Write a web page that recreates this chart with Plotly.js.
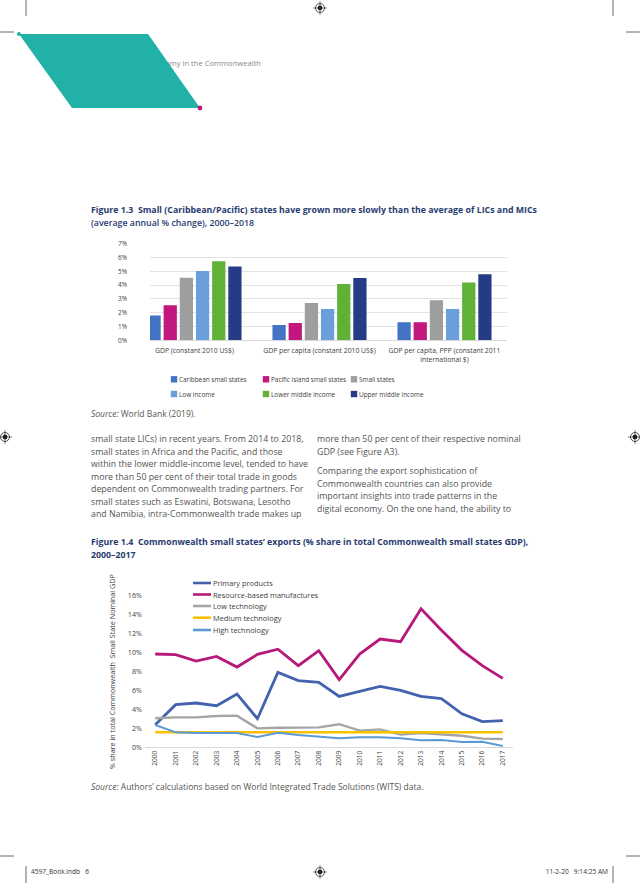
<!DOCTYPE html>
<html><head><meta charset="utf-8">
<script src="https://cdn.plot.ly/plotly-3.0.1.min.js"></script>
<style>
body{margin:0;width:640px;height:883px;position:relative;background:#fff;overflow:hidden;font-family:'Open Sans',sans-serif}
.t{position:absolute;white-space:nowrap;color:#555;font-size:8.8px;line-height:12.5px}
.ttl{position:absolute;white-space:nowrap;color:#283B70;font-size:8.8px;line-height:12.5px;font-weight:700}
.src{position:absolute;white-space:nowrap;color:#555;font-size:8.5px;line-height:12px}
.hdr{position:absolute;white-space:nowrap;color:#8a8a8a;font-size:7.6px;line-height:10px}
.foot{position:absolute;white-space:nowrap;color:#333;font-size:6.6px;line-height:8px}
#chart{position:absolute;left:0;top:0;width:640px;height:883px}
svg.deco{position:absolute;left:0;top:0}
</style></head>
<body>
<div class="hdr" style="right:379px;top:58px">Digital economy in the Commonwealth</div>
<svg class="deco" width="640" height="883">
  <polygon points="19,34 148,34 200,108 72,108" fill="#22B1A6"/>
  <circle cx="19" cy="34" r="2" fill="#22B1A6"/>
  <circle cx="200" cy="108" r="2.4" fill="#C0187A"/>
  <g stroke="#444" stroke-width="0.8">
    <line x1="26" y1="0" x2="26" y2="16"/><line x1="613" y1="0" x2="613" y2="16"/>
    <line x1="0" y1="32" x2="14" y2="32"/><line x1="626" y1="32" x2="640" y2="32"/>
    <line x1="0" y1="856" x2="14" y2="856"/><line x1="626" y1="856" x2="640" y2="856"/>
    <line x1="26" y1="866" x2="26" y2="883"/><line x1="613" y1="866" x2="613" y2="883"/>
  </g>
  <g id="marks"></g>
</svg>
<div class="ttl" style="left:91px;top:204px">Figure 1.3&nbsp; Small (Caribbean/Pacific) states have grown more slowly than the average of LICs and MICs<br><span style="font-weight:600">(average annual % change), 2000–2018</span></div>
<div class="src" style="left:91px;top:408px"><i>Source:</i> World Bank (2019).</div>
<div class="t" style="left:91px;top:433px">small state LICs) in recent years. From 2014 to 2018,<br>small states in Africa and the Pacific, and those<br>within the lower middle-income level, tended to have<br>more than 50 per cent of their total trade in goods<br>dependent on Commonwealth trading partners. For<br>small states such as Eswatini, Botswana, Lesotho<br>and Namibia, intra-Commonwealth trade makes up</div>
<div class="t" style="left:317px;top:433px">more than 50 per cent of their respective nominal<br>GDP (see Figure A3).</div>
<div class="t" style="left:317px;top:465px">Comparing the export sophistication of<br>Commonwealth countries can also provide<br>important insights into trade patterns in the<br>digital economy. On the one hand, the ability to</div>
<div class="ttl" style="left:91px;top:536px">Figure 1.4&nbsp; Commonwealth small states’ exports (% share in total Commonwealth small states GDP),<br>2000–2017</div>
<div class="src" style="left:91px;top:781px"><i>Source:</i> Authors’ calculations based on World Integrated Trade Solutions (WITS) data.</div>
<div class="foot" style="left:31px;top:868px">4597_Book.indb&nbsp;&nbsp; 6</div>
<div class="foot" style="right:32px;top:868px">11-2-20&nbsp;&nbsp; 9:14:25 AM</div>
<div id="chart"></div>
<script>
// registration marks
(function(){
  const g=document.getElementById('marks');
  const pts=[[320,8],[5,437],[635,437],[320,872]];
  let s='';
  pts.forEach(p=>{
    s+=`<circle cx="${p[0]}" cy="${p[1]}" r="4.5" fill="none" stroke="#222" stroke-width="0.8"/>`+
       `<circle cx="${p[0]}" cy="${p[1]}" r="2.4" fill="#222"/>`+
       `<line x1="${p[0]-7}" y1="${p[1]}" x2="${p[0]+7}" y2="${p[1]}" stroke="#222" stroke-width="0.6"/>`+
       `<line x1="${p[0]}" y1="${p[1]-7}" x2="${p[0]}" y2="${p[1]+7}" stroke="#222" stroke-width="0.6"/>`;
  });
  g.innerHTML=s;
})();

// ---------- Figure 1.3 data ----------
const groups = ['GDP (constant 2010 US$)', 'GDP per capita (constant 2010 US$)', 'GDP per capita, PPP (constant 2011<br>international $)'];
const caribbean   = [1.79, 1.11, 1.30];
const pacific     = [2.54, 1.26, 1.30];
const smallStates = [4.54, 2.71, 2.90];
const lowIncome   = [5.02, 2.27, 2.27];
const lowerMiddle = [5.72, 4.08, 4.18];
const upperMiddle = [5.34, 4.52, 4.78];
const barNames = ['Caribbean small states', 'Pacific island small states', 'Small states', 'Low income', 'Lower middle income', 'Upper middle income'];
const barTicks = [0, 1, 2, 3, 4, 5, 6, 7];
const barTickLabels = ['0%', '1%', '2%', '3%', '4%', '5%', '6%', '7%'];

// ---------- Figure 1.4 data ----------
const years = [2000, 2001, 2002, 2003, 2004, 2005, 2006, 2007, 2008, 2009, 2010, 2011, 2012, 2013, 2014, 2015, 2016, 2017];
const primary    = [2.35, 4.46, 4.63, 4.35, 5.58, 2.98, 7.86, 7.00, 6.80, 5.33, 5.86, 6.39, 5.96, 5.33, 5.09, 3.50, 2.67, 2.77];
const resource   = [9.79, 9.72, 9.05, 9.54, 8.42, 9.75, 10.30, 8.56, 10.14, 7.09, 9.79, 11.37, 11.09, 14.56, 12.30, 10.18, 8.56, 7.23];
const lowTech    = [3.02, 3.12, 3.12, 3.26, 3.30, 1.96, 2.03, 2.03, 2.07, 2.40, 1.72, 1.86, 1.30, 1.47, 1.30, 1.19, 0.88, 0.84];
const mediumTech = [1.55, 1.55, 1.55, 1.55, 1.55, 1.55, 1.55, 1.55, 1.55, 1.55, 1.55, 1.55, 1.55, 1.55, 1.55, 1.55, 1.55, 1.55];
const highTech   = [2.32, 1.54, 1.47, 1.47, 1.47, 1.05, 1.51, 1.26, 1.05, 0.91, 1.02, 1.02, 0.91, 0.70, 0.74, 0.53, 0.56, 0.10];
const lineNames = ['Primary products', 'Resource-based manufactures', 'Low technology', 'Medium technology', 'High technology'];
const lineTicks = [0, 2, 4, 6, 8, 10, 12, 14, 16];
const lineTickLabels = ['0%', '2%', '4%', '6%', '8%', '10%', '12%', '14%', '16%'];

// ---------- styles ----------
const barColors = ['#4472C4', '#C2177C', '#9E9E9E', '#6A9FDC', '#5FB236', '#263B86'];
const lineColors = ['#4362AE', '#B8187A', '#A5A5A5', '#F9C000', '#5B9BD5'];
const lineWidths = [2.8, 2.8, 2.4, 2.4, 2.0];

const W = 640, H = 883;
const fx = p => p / W, fy = p => 1 - p / H;

const barSeries = [caribbean, pacific, smallStates, lowIncome, lowerMiddle, upperMiddle];
const lineSeries = [primary, resource, lowTech, mediumTech, highTech];

const traces = [];
barSeries.forEach((vals, i) => traces.push({
  type: 'bar', x: groups, y: vals, name: barNames[i], xaxis: 'x', yaxis: 'y',
  marker: {color: barColors[i]}, hoverinfo: 'skip'
}));
lineSeries.forEach((vals, i) => traces.push({
  type: 'scatter', mode: 'lines', x: years, y: vals, name: lineNames[i], xaxis: 'x2', yaxis: 'y2',
  line: {color: lineColors[i], width: lineWidths[i]}, hoverinfo: 'skip'
}));
const shapes = [], annotations = [];
// bar legend (manual, Excel-like)
const legCols = [174, 266, 354], legRows = [379.3, 394];
barNames.forEach((n, i) => {
  const cx = legCols[i % 3], cy = legRows[Math.floor(i / 3)];
  shapes.push({type: 'rect', xref: 'paper', yref: 'paper', x0: fx(cx - 3.2), x1: fx(cx + 3.2), y0: fy(cy + 3.2), y1: fy(cy - 3.2), fillcolor: barColors[i], line: {width: 0}});
  annotations.push({xref: 'paper', yref: 'paper', x: fx(cx + 3.3), y: fy(cy), xanchor: 'left', yanchor: 'middle', text: n, showarrow: false, font: {size: 6.4, color: '#404040'}});
});
// line legend
const lRows = [583, 594.5, 606, 617.7, 630];
lineNames.forEach((n, i) => {
  shapes.push({type: 'line', xref: 'paper', yref: 'paper', x0: fx(193), x1: fx(211), y0: fy(lRows[i]), y1: fy(lRows[i]), line: {color: lineColors[i], width: 2.6}});
  annotations.push({xref: 'paper', yref: 'paper', x: fx(210.5), y: fy(lRows[i]), xanchor: 'left', yanchor: 'middle', text: n, showarrow: false, font: {size: 7.4, color: '#404040'}});
});
annotations.push({xref: 'paper', yref: 'paper', x: fx(112), y: fy(672), textangle: -90, xanchor: 'center', yanchor: 'middle', showarrow: false,
  text: '% share in total Commonwealth&nbsp; Small State Nominal GDP', font: {size: 7.2, color: '#404040'}});

const layout = {
  width: W, height: H, margin: {l: 0, r: 0, t: 0, b: 0},
  paper_bgcolor: 'rgba(0,0,0,0)', plot_bgcolor: 'rgba(0,0,0,0)',
  font: {family: 'Open Sans, sans-serif', color: '#404040', size: 7},
  showlegend: false,
  barmode: 'group', bargap: 0.224, bargroupgap: 0.18,
  xaxis: {domain: [fx(150), fx(507)], anchor: 'y', type: 'category', range: [-0.356, 2.5], showgrid: false,
    showline: true, linecolor: '#D0D0D0', linewidth: 0.8, ticks: '', tickfont: {size: 6.8, color: '#404040'}, ticklabelstandoff: 4},
  yaxis: {domain: [fy(340.3), fy(243.7)], anchor: 'x', range: [0, 7], tickvals: barTicks, ticktext: barTickLabels, showgrid: true,
    gridcolor: '#DCDCDC', gridwidth: 0.8, zeroline: false, ticks: '', tickfont: {size: 6.4, color: '#404040'}, ticklabelstandoff: 22},
  xaxis2: {domain: [fx(145), fx(513)], anchor: 'y2', range: [1999.5, 2017.5], tickvals: years, tickangle: -90,
    showline: true, linecolor: '#D5DAE3', linewidth: 1, showgrid: false, zeroline: false, ticks: '', tickfont: {size: 6.6, color: '#404040'}},
  yaxis2: {domain: [fy(747), fy(577)], anchor: 'x2', range: [0, 17.9], tickvals: lineTicks, ticktext: lineTickLabels, showgrid: false,
    zeroline: false, ticks: '', tickfont: {size: 7.2, color: '#404040'}, ticklabelstandoff: 2},
  shapes: shapes, annotations: annotations
};
Plotly.newPlot('chart', traces, layout, {staticPlot: true, displayModeBar: false});
</script>
</body></html>
